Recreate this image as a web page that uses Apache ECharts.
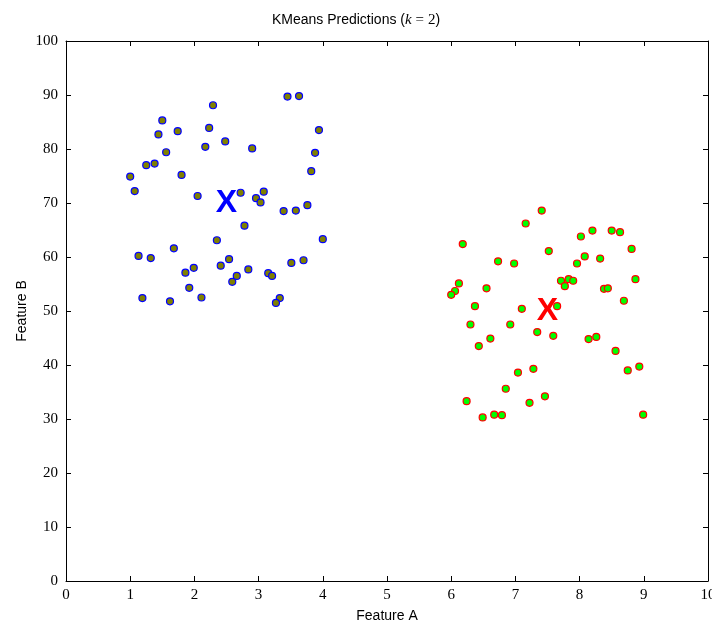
<!DOCTYPE html>
<html>
<head>
<meta charset="utf-8">
<script src="https://cdn.jsdelivr.net/npm/echarts@6/dist/echarts.min.js"></script>
<style>
  html, body { margin: 0; padding: 0; background: #fff; }
  #chart { width: 712px; height: 623px; }
</style>
</head>
<body>
<div id="chart"></div>
<script>
// cluster 0 (blue edge, olive fill)
const cluster0 = [
  [3.45, 89.7], [3.63, 89.8], [2.29, 88.1], [1.50, 85.3], [1.44, 82.7],
  [1.74, 83.3], [2.23, 83.9], [3.94, 83.5], [2.48, 81.4], [2.17, 80.4],
  [2.90, 80.1], [1.56, 79.4], [3.88, 79.3], [1.25, 77.0], [1.38, 77.3],
  [1.00, 74.9], [1.80, 75.2], [3.82, 75.9], [1.07, 72.2], [2.05, 71.3],
  [2.72, 71.9], [3.08, 72.1], [2.96, 70.9], [3.03, 70.1], [3.39, 68.5],
  [3.58, 68.6], [3.76, 69.6], [2.78, 65.8], [2.35, 63.1], [4.00, 63.3],
  [1.68, 61.6], [1.13, 60.2], [1.32, 59.8], [2.54, 59.6], [2.41, 58.4],
  [1.99, 58.0], [1.86, 57.1], [2.84, 57.7], [2.66, 56.5], [2.59, 55.4],
  [3.15, 57.0], [3.21, 56.5], [3.51, 58.9], [3.70, 59.4], [1.92, 54.3],
  [1.19, 52.4], [1.62, 51.8], [2.11, 52.5], [3.33, 52.4], [3.27, 51.5]
];
// cluster 1 (red edge, green fill)
const cluster1 = [
  [7.41, 68.6], [7.16, 66.2], [6.18, 62.4], [8.02, 63.8], [8.20, 64.9],
  [8.50, 64.9], [8.63, 64.6], [8.81, 61.5], [7.52, 61.1], [6.73, 59.2],
  [6.98, 58.8], [8.08, 60.1], [8.32, 59.7], [7.96, 58.8], [6.12, 55.1],
  [6.06, 53.7], [6.00, 53.0], [6.55, 54.2], [7.71, 55.6], [7.83, 55.9],
  [7.90, 55.6], [7.77, 54.6], [8.38, 54.1], [8.44, 54.2], [8.87, 55.9],
  [8.69, 51.9], [6.37, 50.9], [7.10, 50.4], [7.65, 50.9], [6.30, 47.5],
  [6.92, 47.5], [6.61, 44.9], [6.43, 43.5], [7.34, 46.1], [7.59, 45.4],
  [8.14, 44.8], [8.26, 45.2], [8.56, 42.6], [8.75, 39.0], [8.93, 39.7],
  [7.04, 38.6], [7.28, 39.3], [6.85, 35.6], [6.24, 33.3], [7.22, 33.0],
  [7.46, 34.2], [6.49, 30.3], [6.67, 30.8], [6.79, 30.7], [8.99, 30.8]
];
const centroids = [[2.5, 70.0], [7.5, 50.0]];
const centroidColors = ['#0000ff', '#ff0000'];

const serif = 'Liberation Serif';
const sans = 'Liberation Sans';

function frameAxis(extra) {
  return Object.assign({
    type: 'value',
    axisLine: { show: true, onZero: false, lineStyle: { color: '#000', width: 1 } },
    axisTick: { show: true, inside: true, length: 5, lineStyle: { color: '#000' } },
    splitLine: { show: false },
    axisLabel: { show: false }
  }, extra);
}

const chart = echarts.init(document.getElementById('chart'));
chart.setOption({
  animation: false,
  title: {
    text: 'KMeans Predictions ({it|k} {m|=} {m|2})',
    left: 'center',
    top: 8,
    textStyle: {
      fontFamily: sans,
      fontSize: 14,
      fontWeight: 'normal',
      color: '#000',
      rich: {
        it: { fontFamily: serif, fontStyle: 'italic', fontSize: 15, color: '#000' },
        m: { fontFamily: serif, fontSize: 15, color: '#000' }
      }
    }
  },
  grid: { left: 66, right: 4, top: 41, bottom: 42, outerBoundsMode: 'none', containLabel: false },
  xAxis: [
    frameAxis({
      min: 0, max: 10, interval: 1, position: 'bottom',
      name: 'Feature A', nameLocation: 'middle', nameGap: 28, nameMoveOverlap: false,
      nameTextStyle: { fontFamily: sans, fontSize: 14, color: '#000' },
      axisLabel: { show: true, fontFamily: serif, fontSize: 15, color: '#000', margin: 7 }
    }),
    frameAxis({ min: 0, max: 10, interval: 1, position: 'top' })
  ],
  yAxis: [
    frameAxis({
      min: 0, max: 100, interval: 10, position: 'left',
      name: 'Feature B', nameLocation: 'middle', nameGap: 37, nameMoveOverlap: false,
      nameTextStyle: { fontFamily: sans, fontSize: 14, color: '#000' },
      axisLabel: { show: true, fontFamily: serif, fontSize: 15, color: '#000', margin: 8 }
    }),
    frameAxis({ min: 0, max: 100, interval: 10, position: 'right' })
  ],
  series: [
    {
      type: 'scatter',
      data: cluster0,
      symbolSize: 7,
      itemStyle: { color: '#808000', borderColor: '#0000ff', borderWidth: 1.2, opacity: 1 }
    },
    {
      type: 'scatter',
      data: cluster1,
      symbolSize: 7,
      itemStyle: { color: '#00ff00', borderColor: '#ff0000', borderWidth: 1.2, opacity: 1 }
    },
    {
      type: 'scatter',
      data: centroids.map((c, i) => ({
        value: c,
        label: { color: centroidColors[i] }
      })),
      symbolSize: 2,
      itemStyle: { color: 'rgba(0,0,0,0)' },
      label: {
        show: true,
        position: 'inside',
        formatter: 'X',
        fontFamily: sans,
        fontWeight: 'bold',
        fontSize: 32,
        textBorderWidth: 0,
        opacity: 1
      },
      labelLayout: { hideOverlap: false },
      z: 5
    }
  ]
});
</script>
</body>
</html>
